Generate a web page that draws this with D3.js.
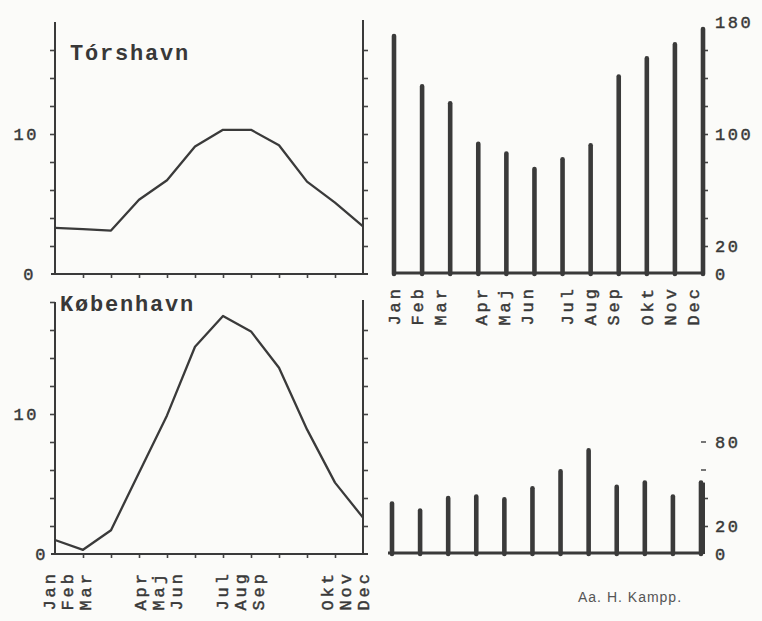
<!DOCTYPE html>
<html>
<head>
<meta charset="utf-8">
<script src="https://cdn.jsdelivr.net/npm/d3@7"></script>
<style>
  body { margin: 0; background: #fbfbf9; }
  svg { display: block; }
  .mono { font-family: "Liberation Mono", "Courier New", monospace; fill: #383838; }
  .typed { stroke: #383838; stroke-width: 0.45px; }
  .axis line { stroke: #444; stroke-width: 1.6; }
  .axis path { display: none; }
</style>
</head>
<body>
<svg class="scene"></svg>
<script>

//
// data
//

var months = ["Jan", "Feb", "Mar", "Apr", "Maj", "Jun", "Jul", "Aug", "Sep", "Okt", "Nov", "Dec"];

var torshavn_temp = [3.3, 3.2, 3.1, 5.3, 6.7, 9.1, 10.3, 10.3, 9.2, 6.6, 5.1, 3.4];
var torshavn_precip = [170, 134, 122, 93, 86, 75, 82, 92, 141, 154, 164, 175];

var kobenhavn_temp = [1.0, 0.3, 1.7, 5.8, 9.9, 14.8, 17.0, 15.9, 13.3, 8.9, 5.1, 2.6];
var kobenhavn_precip = [36, 31, 40, 41, 39, 47, 59, 74, 48, 51, 41, 51];

var temp_labels = [0, 10];
var temp_ticks = [2, 4, 6, 8, 10, 12, 14, 16, 18];
var torshavn_precip_labels = [0, 20, 100, 180];
var torshavn_precip_ticks = [20, 40, 60, 80, 100, 120, 140, 160];
var kobenhavn_precip_labels = [0, 20, 80];
var kobenhavn_precip_ticks = [20, 40];

//
// scene
//

var width = 762,
    height = 621;

var scene = d3.select(".scene")
    .attr("width", width)
    .attr("height", height);

var ink = "#3a3a3a";

// month positions on the charts
var x_temp = d3.scalePoint().domain(months).range([55, 363]);
var x_rain = d3.scalePoint().domain(months).range([394, 703]);

//
// temperature panels
//

function temp_panel(opts) {
    var y = d3.scaleLinear().domain([0, 18]).range([opts.base, opts.base - 252]);
    var g = scene.append("g");

    // left axis
    g.append("g")
        .attr("class", "axis")
        .attr("transform", "translate(55,0)")
        .call(d3.axisLeft(y).tickValues(opts.left_ticks).tickSize(5).tickFormat(""));
    g.append("line")
        .attr("x1", 55).attr("x2", 55)
        .attr("y1", y(0)).attr("y2", y(opts.left_top))
        .attr("stroke", ink).attr("stroke-width", 2);

    // right axis
    g.append("g")
        .attr("class", "axis")
        .attr("transform", "translate(363,0)")
        .call(d3.axisRight(y).tickValues(temp_ticks.slice(0, 8)).tickSize(5).tickFormat(""));
    g.append("line")
        .attr("x1", 363).attr("x2", 363)
        .attr("y1", y(0)).attr("y2", y(0) - 254)
        .attr("stroke", ink).attr("stroke-width", 2);

    // base line with month ticks
    g.append("g")
        .attr("class", "axis")
        .attr("transform", "translate(0," + y(0) + ")")
        .call(d3.axisBottom(x_temp).tickValues(months.slice(1, 11)).tickSize(4).tickFormat(""));
    g.append("line")
        .attr("x1", 51).attr("x2", 368)
        .attr("y1", y(0)).attr("y2", y(0))
        .attr("stroke", ink).attr("stroke-width", 2);

    // labels
    g.selectAll("text.tl")
        .data(temp_labels)
        .enter().append("text")
        .attr("class", "mono typed tl")
        .attr("x", function (d) { return d === 0 ? opts.zero_x : 39; })
        .attr("y", function (d) { return y(d); })
        .attr("dy", "0.36em")
        .attr("text-anchor", "end")
        .style("font-size", "17px")
        .style("letter-spacing", "2.5px")
        .text(function (d) { return d; });

    // curve
    var line = d3.line()
        .x(function (d, i) { return x_temp(months[i]); })
        .y(function (d) { return y(d); });
    g.append("path")
        .datum(opts.values)
        .attr("d", line)
        .attr("fill", "none")
        .attr("stroke", ink)
        .attr("stroke-width", 2.3)
        .attr("stroke-linejoin", "round");

    // station name
    g.append("text")
        .attr("class", "mono")
        .attr("x", opts.name_x)
        .attr("y", opts.name_y)
        .style("font-size", "22px")
        .style("font-weight", "bold")
        .style("letter-spacing", "1.8px")
        .text(opts.name);
}

temp_panel({ base: 274, values: torshavn_temp, name: "Tórshavn",
             name_x: 70, name_y: 60, zero_x: 36,
             left_ticks: temp_ticks.slice(0, 8), left_top: 18 });
temp_panel({ base: 554, values: kobenhavn_temp, name: "København",
             name_x: 60, name_y: 311, zero_x: 48,
             left_ticks: temp_ticks, left_top: 18 });

//
// precipitation panels
//

function rain_panel(opts) {
    var y = d3.scaleLinear().domain([0, 180]).range([opts.base, opts.base - 252]);
    var g = scene.append("g");

    // base line
    g.append("line")
        .attr("x1", opts.left).attr("x2", 703)
        .attr("y1", y(0) - 1).attr("y2", y(0) - 1)
        .attr("stroke", ink).attr("stroke-width", 3);

    // right axis
    g.append("g")
        .attr("class", "axis")
        .attr("transform", "translate(703,0)")
        .call(d3.axisRight(y).tickValues(opts.ticks).tickSize(5).tickFormat(""));
    g.append("line")
        .attr("x1", 703).attr("x2", 703)
        .attr("y1", y(0)).attr("y2", y(opts.axis_top))
        .attr("stroke", ink).attr("stroke-width", 4);

    // loose tick marks above the axis
    g.selectAll("line.loose")
        .data(opts.loose)
        .enter().append("line")
        .attr("class", "loose")
        .attr("x1", 701).attr("x2", 706)
        .attr("y1", function (d) { return y(d); })
        .attr("y2", function (d) { return y(d); })
        .attr("stroke", "#555").attr("stroke-width", 1.6);

    // bars
    g.selectAll("line.bar")
        .data(opts.values)
        .enter().append("line")
        .attr("class", "bar")
        .attr("x1", function (d, i) { return x_rain(months[i]) - opts.shift; })
        .attr("x2", function (d, i) { return x_rain(months[i]) - opts.shift; })
        .attr("y1", y(0))
        .attr("y2", function (d) { return y(d); })
        .attr("stroke", ink)
        .attr("stroke-width", 4.6)
        .attr("stroke-linecap", "round");

    // labels
    g.selectAll("text.rl")
        .data(opts.labels)
        .enter().append("text")
        .attr("class", "mono typed rl")
        .attr("x", 715)
        .attr("y", function (d) { return y(d); })
        .attr("dy", "0.36em")
        .style("font-size", "17px")
        .style("letter-spacing", "2.5px")
        .text(function (d) { return d; });
}

rain_panel({ base: 274, values: torshavn_precip, labels: torshavn_precip_labels,
             ticks: torshavn_precip_ticks, axis_top: 175, loose: [], left: 392, shift: 0 });
rain_panel({ base: 554, values: kobenhavn_precip, labels: kobenhavn_precip_labels,
             ticks: kobenhavn_precip_ticks, axis_top: 51, loose: [60, 80], left: 388, shift: 2 });

//
// month labels, typed in groups of three
//

function month_labels(group_x, step, top) {
    scene.append("g").selectAll("text")
        .data(months)
        .enter().append("text")
        .attr("class", "mono typed")
        .attr("transform", function (d, i) {
            var x = group_x[Math.floor(i / 3)] + (i % 3) * step;
            return "translate(" + x + "," + top + ") rotate(-90)";
        })
        .attr("dy", "0.36em")
        .attr("text-anchor", "end")
        .style("font-size", "17px")
        .style("letter-spacing", "3px")
        .text(function (d) { return d; });
}

month_labels([394, 481, 567, 647], 23, 286);
month_labels([49, 140, 222, 327], 18, 571);

//
// signature
//

scene.append("text")
    .attr("x", 578)
    .attr("y", 602)
    .style("font-family", "'Liberation Sans', Arial, sans-serif")
    .style("font-size", "14px")
    .style("letter-spacing", "1px")
    .style("fill", "#555")
    .text("Aa. H. Kampp.");

</script>
</body>
</html>
